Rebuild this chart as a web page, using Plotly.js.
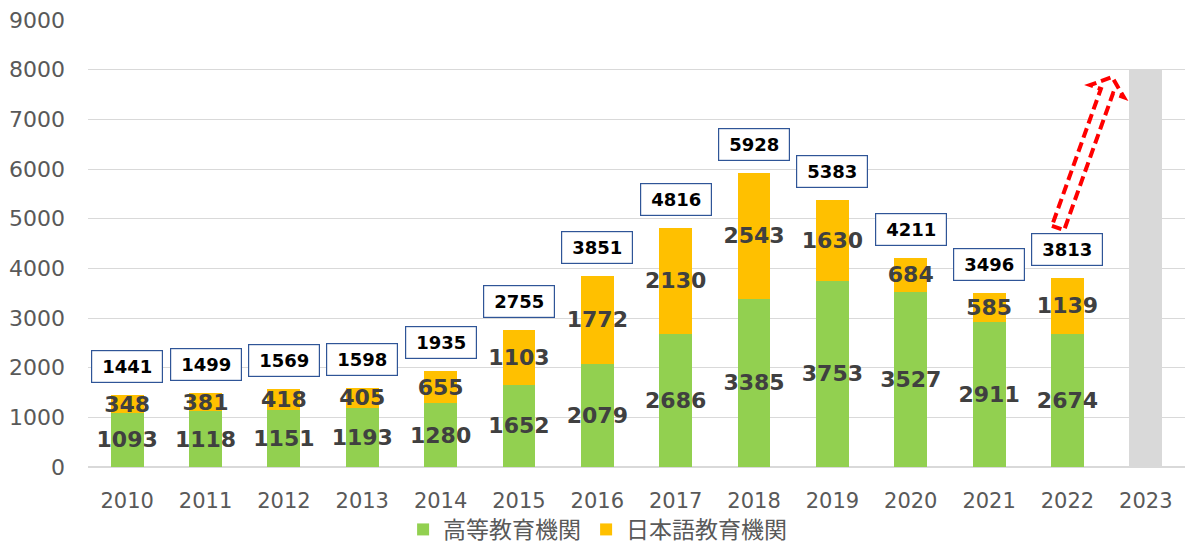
<!DOCTYPE html>
<html>
<head>
<meta charset="utf-8">
<script src="https://cdn.plot.ly/plotly-3.0.1.min.js"></script>
<style>
  html, body { margin: 0; padding: 0; background: #fff; }
  #chart { width: 1200px; height: 555px; }
</style>
</head>
<body>
<div id="chart"></div>
<script>
// data
const years = ['2010', '2011', '2012', '2013', '2014', '2015', '2016', '2017', '2018', '2019', '2020', '2021', '2022'];
const higherEd = [1093, 1118, 1151, 1193, 1280, 1652, 2079, 2686, 3385, 3753, 3527, 2911, 2674];
const langSchool = [348, 381, 418, 405, 655, 1103, 1772, 2130, 2543, 1630, 684, 585, 1139];
const targetYear = ['2023'];
const targetValue = [8000];
const seriesNames = ['高等教育機関', '日本語教育機関'];

const totals = higherEd.map((v, i) => v + langSchool[i]);

const M = {l: 88, r: 15, t: 20, b: 88};
const W = 1200, H = 555;
const plotW = W - M.l - M.r, plotH = H - M.t - M.b;

const labelFont = {family: 'DejaVu Sans', size: 22, color: '#404040', weight: 'bold'};

let barCommon = {
    type: 'bar',
    textposition: 'inside',
    insidetextanchor: 'middle',
    textangle: 0,
    constraintext: 'none',
    insidetextfont: labelFont,
    hoverinfo: 'skip'
};

let traces = [
    Object.assign({}, barCommon, {
        name: seriesNames[0],
        x: years,
        y: higherEd,
        text: higherEd.map(String),
        marker: {color: '#92D050'}
    }),
    Object.assign({}, barCommon, {
        name: seriesNames[1],
        x: years,
        y: langSchool,
        text: langSchool.map(String),
        marker: {color: '#FFC000'}
    }),
    {
        type: 'bar',
        name: targetYear[0],
        x: targetYear,
        y: targetValue,
        marker: {color: '#D9D9D9'},
        showlegend: false,
        hoverinfo: 'skip'
    }
];

// total boxes above each bar (x by category index)
let annotations = years.map((yr, i) => ({
    x: i,
    y: totals[i],
    xref: 'x',
    yref: 'y',
    text: String(totals[i]),
    showarrow: false,
    yanchor: 'bottom',
    yshift: 12,
    width: 68,
    height: 29,
    bgcolor: '#ffffff',
    bordercolor: '#2F5597',
    borderwidth: 1.2,
    borderpad: 1,
    font: {family: 'DejaVu Sans', size: 18, color: '#000000', weight: 'bold'}
}));

// hollow dashed arrow pointing to 2023 (drawn in pixels, converted to paper)
function px(x, y) {
    return ((x - M.l) / plotW).toFixed(4) + ',' + ((H - M.b - y) / plotH).toFixed(4);
}
const tail = [1058, 228], tip = [1112, 77];
const len = Math.hypot(tip[0] - tail[0], tip[1] - tail[1]);
const u = [(tip[0] - tail[0]) / len, (tip[1] - tail[1]) / len];
const n = [-u[1], u[0]];
const shaftHalf = 6.5, headHalf = 18, headLen = 15;
const base = [tip[0] - u[0] * headLen, tip[1] - u[1] * headLen];
const pt = (p, k) => [p[0] + n[0] * k, p[1] + n[1] * k];
const arrowPts = [
    pt(tail, -shaftHalf), pt(tail, shaftHalf),
    pt(base, shaftHalf), pt(base, headHalf),
    tip,
    pt(base, -headHalf), pt(base, -shaftHalf)
];
const arrowPath = 'M' + arrowPts.map(p => px(p[0], p[1])).join(' L') + ' Z';

let layout = {
    width: W,
    height: H,
    margin: M,
    paper_bgcolor: '#ffffff',
    plot_bgcolor: '#ffffff',
    barmode: 'stack',
    bargap: 0.58,
    showlegend: true,
    legend: {
        orientation: 'h',
        x: 0.498,
        xref: 'container',
        xanchor: 'center',
        y: 0.046,
        yref: 'container',
        yanchor: 'middle',
        font: {family: 'Noto Sans CJK JP', size: 23, color: '#595959'},
        itemwidth: 30,
        traceorder: 'normal'
    },
    xaxis: {
        type: 'category',
        categoryorder: 'array',
        categoryarray: years.concat(targetYear),
        range: [-0.5, years.length + 0.5],
        showgrid: false,
        showline: false,
        ticks: '',
        ticklabelstandoff: 19,
        tickfont: {family: 'DejaVu Sans', size: 21, color: '#595959'}
    },
    yaxis: {
        range: [0, 9000],
        dtick: 1000,
        showgrid: true,
        gridcolor: '#D9D9D9',
        gridwidth: 1,
        zeroline: true,
        zerolinecolor: '#D9D9D9',
        zerolinewidth: 1.5,
        showline: false,
        ticks: '',
        ticklabelstandoff: 22,
        tickfont: {family: 'DejaVu Sans', size: 22, color: '#595959'}
    },
    annotations: annotations,
    shapes: [{
        type: 'path',
        xref: 'paper',
        yref: 'paper',
        path: arrowPath,
        line: {color: '#FF0000', width: 4, dash: '10px,5px'},
        fillcolor: 'rgba(0,0,0,0)'
    }]
};

Plotly.newPlot('chart', traces, layout, {displayModeBar: false, staticPlot: true});
</script>
</body>
</html>
